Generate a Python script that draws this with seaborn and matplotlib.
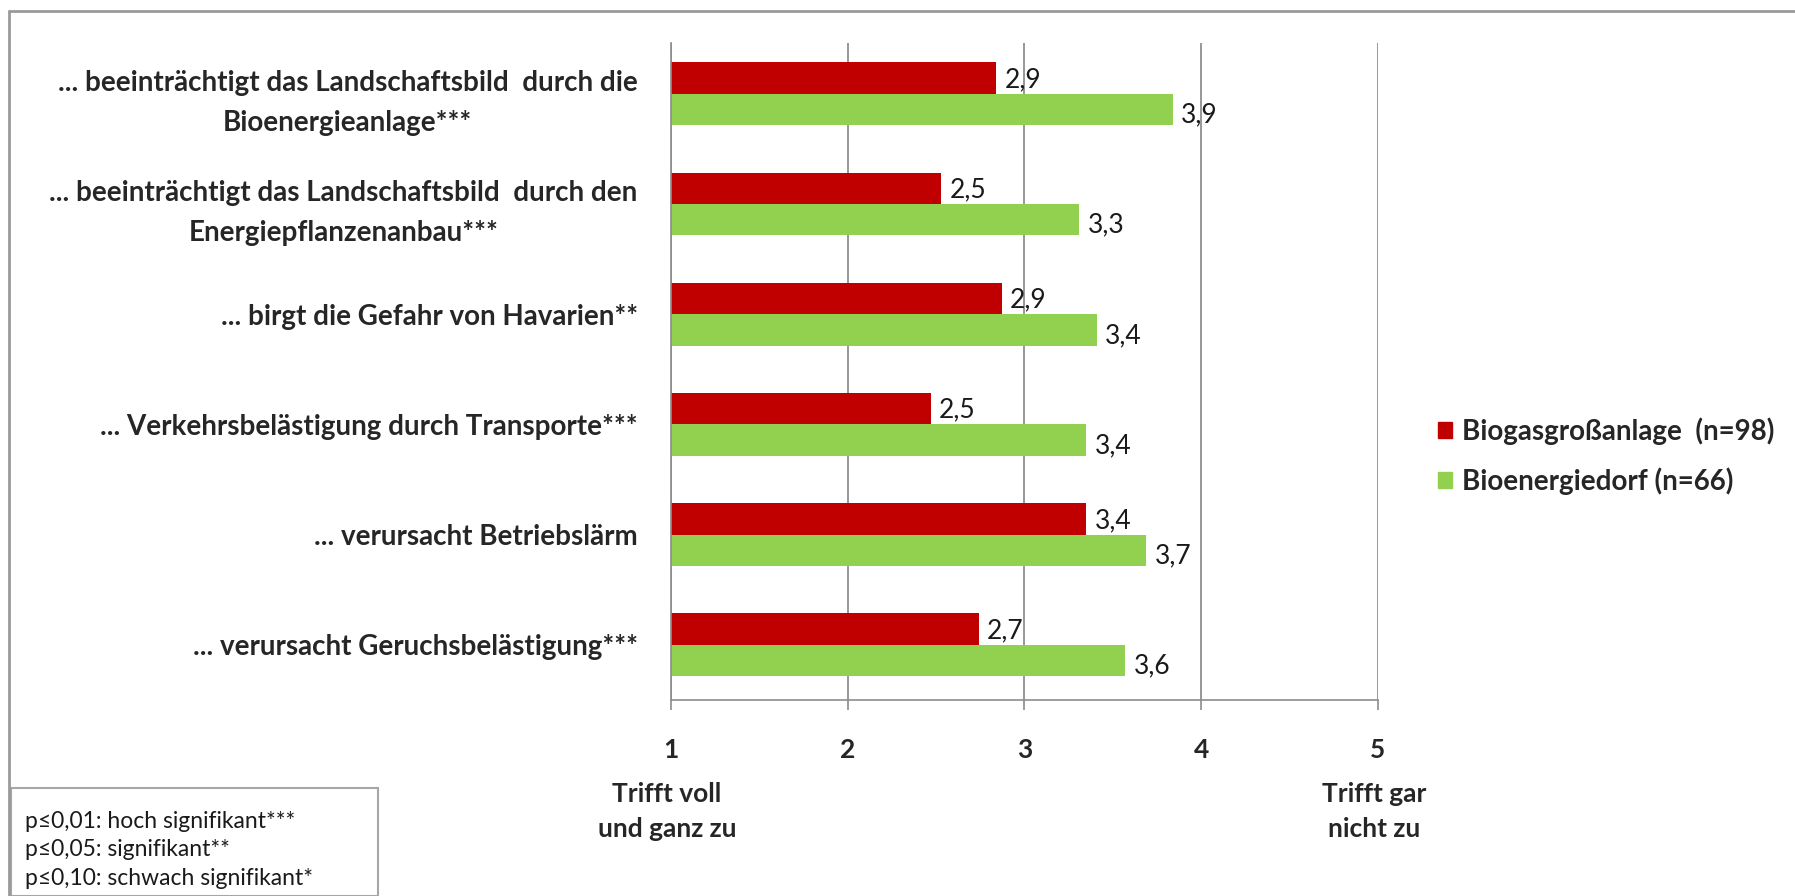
import numpy as np
import pandas as pd
import matplotlib
matplotlib.use("Agg")
import matplotlib.pyplot as plt
import seaborn as sns
from matplotlib.patches import Rectangle
from matplotlib.lines import Line2D

# data (mean ratings, 1 = trifft voll zu, 5 = trifft gar nicht zu)
statements = [
    "... beeinträchtigt das Landschaftsbild  durch die\nBioenergieanlage***",
    "... beeinträchtigt das Landschaftsbild  durch den\nEnergiepflanzenanbau***",
    "... birgt die Gefahr von Havarien**",
    "... Verkehrsbelästigung durch Transporte***",
    "... verursacht Betriebslärm",
    "... verursacht Geruchsbelästigung***",
]
groups = ["Biogasgroßanlage  (n=98)", "Bioenergiedorf (n=66)"]
biogas = [2.84, 2.53, 2.87, 2.47, 3.35, 2.74]
dorf = [3.84, 3.31, 3.41, 3.35, 3.69, 3.57]
biogas_labels = ["2,9", "2,5", "2,9", "2,5", "3,4", "2,7"]
dorf_labels = ["3,9", "3,3", "3,4", "3,4", "3,7", "3,6"]
colors = ["#C00000", "#92D050"]
xticks = [1, 2, 3, 4, 5]
sig_notes = ["p≤0,01: hoch signifikant***",
             "p≤0,05: signifikant**",
             "p≤0,10: schwach signifikant*"]

df = pd.DataFrame({
    "statement": statements * 2,
    "value": biogas + dorf,
    "group": [groups[0]] * 6 + [groups[1]] * 6,
})

sns.set_theme(style="white")
plt.rcParams["font.family"] = ["Lato", "DejaVu Sans"]

W, H = 1795, 896
fig = plt.figure(figsize=(W / 100, H / 100), dpi=100)
ax = fig.add_axes([671 / W, 1 - 700 / H, (1378 - 671) / W, (700 - 43) / H])

sns.barplot(data=df, y="statement", x="value", hue="group", palette=colors,
            width=0.57, linewidth=0, saturation=1, ax=ax, legend=False)

ax.set_xlim(1, 5)
ax.set_ylim(5.5, -0.46)
ax.set_xticks(xticks)
ax.set_xticklabels([str(t) for t in xticks], fontsize=19, fontweight="bold")
ax.set_xlabel("")
ax.set_ylabel("")
ax.tick_params(axis="x", bottom=True, length=7, width=1.2, color="#8c8c8c", pad=20)
ax.tick_params(axis="y", left=False, length=0, pad=24)
for t in ax.get_yticklabels():
    t.set_fontsize(20)
    t.set_fontweight("bold")
    t.set_multialignment("center")
    t.set_linespacing(1.65)

ax.grid(axis="x", color="#868686", linewidth=1.2)
ax.set_axisbelow(True)
for s in ["top", "right"]:
    ax.spines[s].set_visible(False)
for s in ["left", "bottom"]:
    ax.spines[s].set_color("#8c8c8c")
    ax.spines[s].set_linewidth(1.2)

# value labels next to the bars
for cont, labs, dy in zip(ax.containers, [biogas_labels, dorf_labels], [-1, -4]):
    for bar, lab in zip(cont.patches, labs):
        ax.annotate(lab, (bar.get_x() + bar.get_width(), bar.get_y() + bar.get_height() / 2),
                    xytext=(6, dy), textcoords="offset points", va="center", ha="left",
                    fontsize=19, color="#1a1a1a")

# legend
handles = [Rectangle((0, 0), 1, 1, color=c) for c in colors]
fig.legend(handles, groups, loc="center left", bbox_to_anchor=(1438 / W, 1 - 456 / H),
           frameon=False, borderpad=0, borderaxespad=0, handlelength=0.5, handleheight=0.5,
           handletextpad=0.35, labelspacing=0.8, prop={"size": 20, "weight": "bold"})

# axis end descriptions
fig.text(667 / W, 1 - 811 / H, "Trifft voll\nund ganz zu", ha="center", va="center",
         fontsize=19, fontweight="bold", linespacing=1.55)
fig.text(1374 / W, 1 - 811 / H, "Trifft gar\nnicht zu", ha="center", va="center",
         fontsize=19, fontweight="bold", linespacing=1.55)

# outer frame
fig.add_artist(Line2D([9 / W, 1], [1 - 11 / H, 1 - 11 / H], transform=fig.transFigure,
                      color="#9a9a9a", linewidth=2))
fig.add_artist(Line2D([9 / W, 9 / W], [1 - 11 / H, 0], transform=fig.transFigure,
                      color="#9a9a9a", linewidth=2))

# significance box
fig.add_artist(Rectangle((11 / W, 0), (378 - 11) / W, (896 - 788) / H, transform=fig.transFigure,
                         facecolor="white", edgecolor="#a6a6a6", linewidth=1.5))
for i, note in enumerate(sig_notes):
    fig.text(25 / W, 1 - (821 + 28.5 * i) / H, note, ha="left", va="center",
             fontsize=16.5, color="#1a1a1a")

fig.savefig("out.png", dpi=100)
